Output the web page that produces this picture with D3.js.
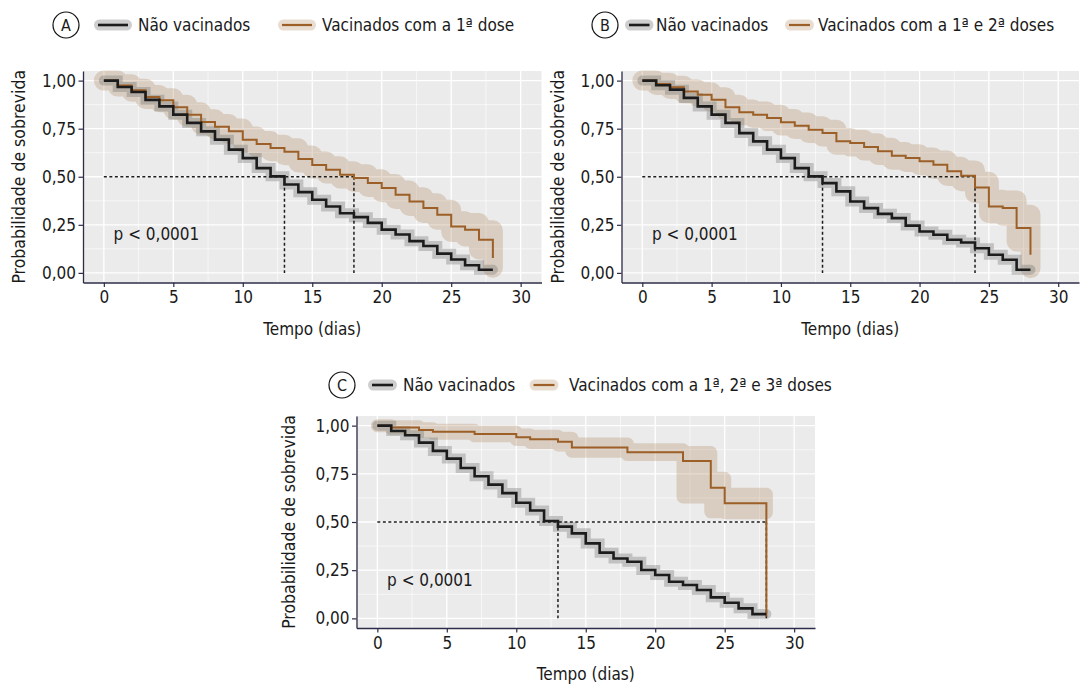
<!DOCTYPE html>
<html>
<head>
<meta charset="utf-8">
<title>Curvas de sobrevida</title>
<script src="https://d3js.org/d3.v7.min.js"></script>
<style>
    body { margin: 0; background: #fff; }
    svg text {
        font-family: "DejaVu Sans Condensed", "DejaVu Sans", sans-serif;
        font-stretch: condensed;
        fill: #1a1a1a;
    }
</style>
</head>
<body>
<svg id="chart" width="1083" height="685"></svg>
<script>
// ---- dados ----
const dias = [0,1,2,3,4,5,6,7,8,9,10,11,12,13,14,15,16,17,18,19,20,21,22,23,24,25,26,27,28];

// painel A
const naoVacA = [1.00,0.967,0.941,0.90,0.866,0.823,0.78,0.736,0.693,0.641,0.597,0.545,0.502,0.46,0.42,0.38,0.345,0.31,0.29,0.26,0.225,0.20,0.165,0.14,0.10,0.07,0.04,0.016,0.016];
const vac1A = [1.00,0.975,0.95,0.915,0.898,0.862,0.823,0.785,0.76,0.736,0.693,0.67,0.65,0.63,0.592,0.561,0.536,0.51,0.493,0.467,0.441,0.406,0.371,0.337,0.302,0.241,0.224,0.172,0.077];
const vac1A_ic = [0,0.006,0.008,0.01,0.01,0.012,0.012,0.014,0.014,0.015,0.016,0.016,0.017,0.018,0.018,0.018,0.019,0.019,0.02,0.02,0.021,0.022,0.023,0.025,0.026,0.028,0.035,0.05,0.05];

// painel B
const naoVacB = [1.00,0.976,0.953,0.91,0.866,0.823,0.78,0.727,0.684,0.641,0.597,0.545,0.502,0.467,0.424,0.371,0.337,0.307,0.285,0.246,0.215,0.198,0.172,0.158,0.128,0.094,0.068,0.016,0.016];
const vac2B = [1.00,0.983,0.965,0.944,0.927,0.901,0.861,0.835,0.823,0.806,0.783,0.765,0.745,0.727,0.684,0.675,0.655,0.632,0.609,0.597,0.58,0.562,0.528,0.505,0.444,0.345,0.337,0.233,0.094];
const vac2B_ic = [0,0.006,0.008,0.01,0.012,0.013,0.014,0.015,0.016,0.016,0.017,0.017,0.018,0.018,0.018,0.018,0.019,0.019,0.02,0.02,0.02,0.022,0.024,0.028,0.03,0.035,0.04,0.07,0.07];

// painel C
const naoVacC = [1.00,0.972,0.95,0.912,0.869,0.829,0.78,0.737,0.694,0.65,0.60,0.56,0.505,0.476,0.441,0.389,0.341,0.311,0.294,0.251,0.225,0.19,0.173,0.147,0.109,0.081,0.052,0.022,0.022];
const diasVac3C = [0,1,3,4,7,10,11,13,14,18,22,24,25,28];
const vac3C = [1.00,0.99,0.977,0.968,0.957,0.94,0.929,0.917,0.886,0.862,0.817,0.678,0.597,0.01];
const vac3C_inf = [1.00,0.986,0.97,0.96,0.947,0.928,0.913,0.90,0.867,0.85,0.63,0.553,0.548,0.548];
const vac3C_sup = [1.00,0.994,0.984,0.976,0.967,0.952,0.945,0.935,0.905,0.875,0.86,0.727,0.644,0.644];

const medianasA = [13, 18];
const medianasB = [13, 24];
const medianasC = [13, 28];

const xTicks = [0, 5, 10, 15, 20, 25, 30];
const xMinor = [2.5, 7.5, 12.5, 17.5, 22.5, 27.5];
const yTicks = [0, 0.25, 0.5, 0.75, 1];
const yMinor = [0.125, 0.375, 0.625, 0.875];

const rotNaoVac = "Não vacinados";
const rotVac = ["Vacinados com a 1ª dose", "Vacinados com a 1ª e 2ª doses", "Vacinados com a 1ª, 2ª e 3ª doses"];
const pValor = "p < 0,0001";

// ---- estilo ----
const corPreta = "#1c1c1c";
const corMarrom = "#9b5f27";
const corFaixa = "#a0703c";
const corFundo = "#ebebeb";
const corEixo = "#2c2c48";
const opFaixa = 0.24;

const svg = d3.select("#chart");

const paineis = [
    {
        letra: "A", left: 83, right: 541.5, top: 71, bottom: 282.5,
        naoVac: naoVacA, vac: vac1A, diasVac: dias,
        inf: vac1A.map((d, i) => d - vac1A_ic[i]), sup: vac1A.map((d, i) => d + vac1A_ic[i]),
        ribbonW: 20, medianas: medianasA, rotulo: rotVac[0],
        leg: { y: 25, circ: 66, k1: [99.5, 126.5], t1: 138, k2: [283.5, 310.5], t2: 322 },
        yTitleX: 25
    },
    {
        letra: "B", left: 621.5, right: 1079, top: 71, bottom: 282.5,
        naoVac: naoVacB, vac: vac2B, diasVac: dias,
        inf: vac2B.map((d, i) => d - vac2B_ic[i]), sup: vac2B.map((d, i) => d + vac2B_ic[i]),
        ribbonW: 20, medianas: medianasB, rotulo: rotVac[1],
        leg: { y: 25, circ: 605, k1: [630.5, 648], t1: 656, k2: [790.5, 808.5], t2: 818 },
        yTitleX: 564
    },
    {
        letra: "C", left: 356.5, right: 815, top: 416, bottom: 628,
        naoVac: naoVacC, vac: vac3C, diasVac: diasVac3C,
        inf: vac3C_inf, sup: vac3C_sup,
        ribbonW: 13, medianas: medianasC, rotulo: rotVac[2],
        leg: { y: 385, circ: 342, k1: [373.5, 391.5], t1: 403, k2: [535, 553], t2: 569 },
        yTitleX: 295
    }
];

function fmt(d) {
    return d3.format(".2f")(d).replace(".", ",");
}

function desenhaPainel(p) {
    const g = svg.append("g");

    const x = d3.scaleLinear().domain([-1.5, 31.5]).range([p.left, p.right]);
    const y = d3.scaleLinear().domain([-0.05, 1.05]).range([p.bottom, p.top]);

    // fundo e grade
    g.append("rect")
        .attr("x", p.left).attr("y", p.top)
        .attr("width", p.right - p.left).attr("height", p.bottom - p.top)
        .attr("fill", corFundo);

    g.selectAll(".minx").data(xMinor).enter().append("line")
        .attr("x1", d => x(d)).attr("x2", d => x(d))
        .attr("y1", p.top).attr("y2", p.bottom)
        .attr("stroke", "#fff").attr("stroke-width", 0.6);
    g.selectAll(".miny").data(yMinor).enter().append("line")
        .attr("x1", p.left).attr("x2", p.right)
        .attr("y1", d => y(d)).attr("y2", d => y(d))
        .attr("stroke", "#fff").attr("stroke-width", 0.6);
    g.selectAll(".majx").data(xTicks).enter().append("line")
        .attr("x1", d => x(d)).attr("x2", d => x(d))
        .attr("y1", p.top).attr("y2", p.bottom)
        .attr("stroke", "#fff").attr("stroke-width", 1.3);
    g.selectAll(".majy").data(yTicks).enter().append("line")
        .attr("x1", p.left).attr("x2", p.right)
        .attr("y1", d => y(d)).attr("y2", d => y(d))
        .attr("stroke", "#fff").attr("stroke-width", 1.3);

    // faixa de confiança dos vacinados
    const faixa = d3.area()
        .x((d, i) => x(p.diasVac[i]))
        .y0((d, i) => y(p.inf[i]))
        .y1((d, i) => y(p.sup[i]))
        .curve(d3.curveStepAfter);
    g.append("g").attr("opacity", opFaixa)
        .append("path")
        .attr("d", faixa(p.vac))
        .attr("fill", corFaixa)
        .attr("stroke", corFaixa)
        .attr("stroke-width", p.ribbonW)
        .attr("stroke-linejoin", "round");

    // faixa dos não vacinados
    const linhaNV = d3.line()
        .x((d, i) => x(dias[i]))
        .y(d => y(d))
        .curve(d3.curveStepAfter);
    g.append("path")
        .attr("d", linhaNV(p.naoVac))
        .attr("fill", "none")
        .attr("stroke", "#6e6e6e")
        .attr("stroke-opacity", 0.34)
        .attr("stroke-width", 10)
        .attr("stroke-linecap", "round");

    // linhas das medianas
    const medMax = d3.max(p.medianas);
    g.append("line")
        .attr("x1", x(0)).attr("x2", x(medMax))
        .attr("y1", y(0.5)).attr("y2", y(0.5))
        .attr("stroke", corPreta).attr("stroke-width", 1.5)
        .attr("stroke-dasharray", "3,2.5");
    g.selectAll(".med").data(p.medianas).enter().append("line")
        .attr("x1", d => x(d)).attr("x2", d => x(d))
        .attr("y1", y(0.5)).attr("y2", y(0))
        .attr("stroke", corPreta).attr("stroke-width", 1.5)
        .attr("stroke-dasharray", "3,2.5");

    // curvas
    const linhaV = d3.line()
        .x((d, i) => x(p.diasVac[i]))
        .y(d => y(d))
        .curve(d3.curveStepAfter);
    g.append("path")
        .attr("d", linhaV(p.vac))
        .attr("fill", "none")
        .attr("stroke", corMarrom)
        .attr("stroke-width", 2);
    g.append("path")
        .attr("d", linhaNV(p.naoVac))
        .attr("fill", "none")
        .attr("stroke", corPreta)
        .attr("stroke-width", 2.6);

    // eixos
    const eixoY = d3.axisLeft(y).tickValues(yTicks).tickFormat(fmt)
        .tickSize(4.5).tickSizeOuter(0).tickPadding(2.5);
    const gy = g.append("g").attr("transform", `translate(${p.left},0)`).call(eixoY);
    const eixoX = d3.axisBottom(x).tickValues(xTicks).tickFormat(d3.format("d"))
        .tickSize(4.5).tickSizeOuter(0).tickPadding(4);
    const gx = g.append("g").attr("transform", `translate(0,${p.bottom})`).call(eixoX);
    [gx, gy].forEach(a => {
        a.attr("font-family", null);
        a.select(".domain").attr("stroke", corEixo).attr("stroke-width", 1.3);
        a.selectAll(".tick line").attr("stroke", corEixo).attr("stroke-width", 1.2);
        a.selectAll(".tick text").attr("font-size", 17).attr("fill", "#1a1a1a");
    });

    // títulos
    g.append("text")
        .attr("x", (p.left + p.right) / 2)
        .attr("y", p.bottom + 52)
        .attr("text-anchor", "middle")
        .attr("font-size", 17)
        .text("Tempo (dias)");
    g.append("text")
        .attr("transform", `translate(${p.yTitleX},${(p.top + p.bottom) / 2}) rotate(-90)`)
        .attr("text-anchor", "middle")
        .attr("font-size", 17.5)
        .text("Probabilidade de sobrevida");

    g.append("text")
        .attr("x", x(0.7))
        .attr("y", y(0.2) + 6)
        .attr("font-size", 17)
        .text(pValor);

    // legenda
    const L = p.leg;
    g.append("circle")
        .attr("cx", L.circ).attr("cy", L.y).attr("r", 13)
        .attr("fill", "#fff").attr("stroke", "#111").attr("stroke-width", 1.2);
    g.append("text")
        .attr("x", L.circ).attr("y", L.y + 6)
        .attr("text-anchor", "middle")
        .attr("font-size", 16)
        .text(p.letra);

    g.append("line")
        .attr("x1", L.k1[0]).attr("x2", L.k1[1]).attr("y1", L.y).attr("y2", L.y)
        .attr("stroke", "#6e6e6e").attr("stroke-opacity", 0.34)
        .attr("stroke-width", 11).attr("stroke-linecap", "round");
    g.append("line")
        .attr("x1", L.k1[0] - 1.5).attr("x2", L.k1[1] + 1.5).attr("y1", L.y).attr("y2", L.y)
        .attr("stroke", corPreta).attr("stroke-width", 2.6);
    g.append("text")
        .attr("x", L.t1).attr("y", L.y + 6)
        .attr("font-size", 17)
        .text(rotNaoVac);

    g.append("line")
        .attr("x1", L.k2[0]).attr("x2", L.k2[1]).attr("y1", L.y).attr("y2", L.y)
        .attr("stroke", corFaixa).attr("stroke-opacity", opFaixa)
        .attr("stroke-width", 11).attr("stroke-linecap", "round");
    g.append("line")
        .attr("x1", L.k2[0] - 1.5).attr("x2", L.k2[1] + 1.5).attr("y1", L.y).attr("y2", L.y)
        .attr("stroke", corMarrom).attr("stroke-width", 2.2);
    g.append("text")
        .attr("x", L.t2).attr("y", L.y + 6)
        .attr("font-size", 17)
        .text(p.rotulo);
}

paineis.forEach(desenhaPainel);
</script>
</body>
</html>
